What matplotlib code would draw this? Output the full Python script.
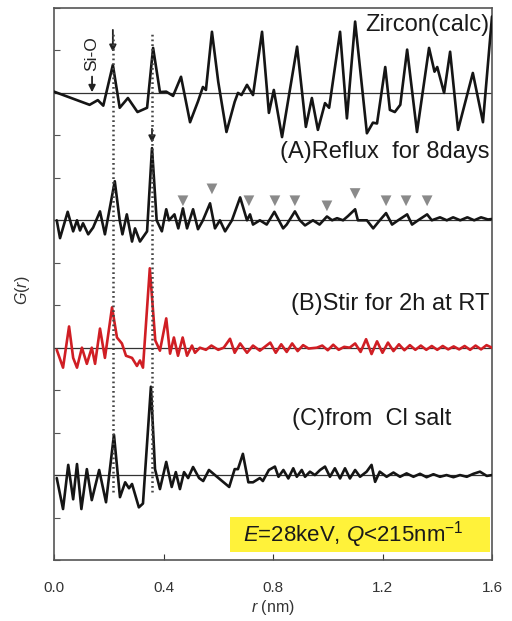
import matplotlib
matplotlib.use("Agg")
import matplotlib.pyplot as plt
from matplotlib.patches import Rectangle

plt.rcParams['font.family'] = ['Liberation Sans', 'DejaVu Sans']
plt.rcParams['mathtext.fontset'] = 'custom'
plt.rcParams['mathtext.rm'] = 'Liberation Sans'
plt.rcParams['mathtext.it'] = 'Liberation Sans:italic'

# ---------------- data ----------------
zircon_r = [0.00, 0.13, 0.16, 0.18, 0.215, 0.24, 0.27, 0.305, 0.34, 0.362, 0.387, 0.41, 0.435,
            0.464, 0.497, 0.526, 0.544, 0.555, 0.577, 0.60, 0.63, 0.66, 0.672, 0.685, 0.705,
            0.727, 0.76, 0.785, 0.803, 0.833, 0.888, 0.92, 0.942, 0.964, 0.99, 1.005, 1.045,
            1.07, 1.10, 1.143, 1.165, 1.18, 1.21, 1.227, 1.245, 1.265, 1.29, 1.326, 1.37,
            1.39, 1.40, 1.425, 1.447, 1.476, 1.53, 1.567, 1.60]
zircon_g = [0.03, -0.28, -0.17, -0.3, 0.66, -0.35, -0.12, -0.45, -0.35, 1.06, 0.02, 0.03, -0.07,
            0.38, -0.69, -0.2, 0.14, 0.07, 1.44, 0.26, -0.92, -0.21, 0.0, -0.05, 0.19,
            -0.05, 1.44, -0.47, 0.07, -1.04, 1.09, -0.8, -0.12, -0.87, -0.24, -0.35, 1.44,
            -0.6, 1.68, -0.95, -0.7, -0.72, 0.61, -0.4, -0.45, -0.28, 1.02, -0.92, 1.06,
            0.5, 0.61, 0.0, 0.97, -0.87, 0.47, -0.69, 1.8]

reflux_r = [0.01, 0.022, 0.05, 0.07, 0.084, 0.095, 0.106, 0.125, 0.143, 0.168, 0.186, 0.222,
            0.24, 0.25, 0.266, 0.285, 0.296, 0.314, 0.34, 0.358, 0.375, 0.394, 0.41, 0.42,
            0.44, 0.454, 0.471, 0.486, 0.508, 0.526, 0.544, 0.57, 0.588, 0.606, 0.625, 0.65,
            0.68, 0.705, 0.716, 0.727, 0.752, 0.777, 0.805, 0.837, 0.85, 0.88, 0.898, 0.917,
            0.946, 0.97, 0.997, 1.016, 1.034, 1.056, 1.074, 1.10, 1.11, 1.143, 1.166, 1.19,
            1.213, 1.235, 1.257, 1.29, 1.308, 1.33, 1.363, 1.38, 1.41, 1.435, 1.458, 1.484,
            1.51, 1.535, 1.56, 1.585, 1.60]
reflux_g = [0.0, -0.42, 0.2, -0.26, 0.0, -0.24, -0.07, -0.33, -0.17, 0.21, -0.33, 0.92,
            0.0, -0.33, 0.14, -0.5, -0.19, -0.5, -0.26, 1.7, 0.0, -0.26, 0.26, 0.0,
            0.14, -0.19, 0.28, -0.19, 0.26, -0.21, 0.0, 0.4, -0.19, 0.0, -0.26, 0.0,
            0.54, 0.0, 0.14, -0.1, 0.0, -0.1, 0.2, -0.19, -0.1, 0.21, 0.0, -0.12,
            0.0, -0.1, 0.09, 0.0, 0.05, 0.0, 0.1, 0.26, 0.0, 0.0, -0.19, 0.0,
            0.17, -0.1, 0.0, 0.14, -0.1, 0.0, 0.14, 0.0, 0.07, 0.0, 0.07, 0.0,
            0.07, 0.0, 0.07, 0.02, 0.03]

stir_r = [0.01, 0.033, 0.055, 0.07, 0.084, 0.102, 0.12, 0.138, 0.15, 0.168, 0.186, 0.212,
          0.23, 0.248, 0.263, 0.285, 0.303, 0.314, 0.325, 0.35, 0.37, 0.387, 0.41, 0.424,
          0.438, 0.453, 0.47, 0.486, 0.504, 0.515, 0.533, 0.555, 0.575, 0.60, 0.62, 0.643,
          0.66, 0.68, 0.705, 0.727, 0.752, 0.79, 0.81, 0.83, 0.85, 0.87, 0.89, 0.91, 0.93,
          0.96, 0.98, 1.00, 1.02, 1.04, 1.06, 1.08, 1.10, 1.12, 1.14, 1.16, 1.18, 1.20,
          1.22, 1.24, 1.26, 1.28, 1.30, 1.32, 1.34, 1.36, 1.38, 1.40, 1.42, 1.44, 1.46,
          1.48, 1.50, 1.52, 1.54, 1.56, 1.58, 1.60]
stir_g = [-0.05, -0.47, 0.5, -0.24, -0.47, 0.0, -0.38, 0.0, -0.38, 0.45, -0.24, 0.95,
          0.24, 0.1, -0.19, -0.24, -0.43, -0.3, -0.47, 1.87, 0.17, -0.07, 0.69, -0.14,
          0.24, -0.19, 0.24, -0.19, 0.05, -0.12, 0.0, -0.05, 0.05, -0.05, 0.0, 0.21,
          -0.12, 0.1, -0.12, 0.05, -0.07, 0.12, -0.12, 0.08, -0.1, 0.1, -0.08, 0.06, -0.02,
          0.0, 0.05, -0.06, 0.07, -0.05, 0.02, 0.0, 0.1, -0.1, 0.2, -0.15, 0.15, -0.12,
          0.12, -0.08, 0.08, -0.06, 0.06, -0.05, 0.05, -0.05, 0.04, -0.05, 0.04, -0.04, 0.03,
          -0.04, 0.04, -0.05, 0.05, -0.04, 0.06, 0.0]

cl_r = [0.01, 0.033, 0.052, 0.07, 0.084, 0.10, 0.12, 0.138, 0.165, 0.19, 0.219, 0.241,
        0.26, 0.274, 0.285, 0.31, 0.325, 0.354, 0.369, 0.387, 0.41, 0.43, 0.445, 0.46,
        0.475, 0.49, 0.508, 0.53, 0.545, 0.566, 0.588, 0.614, 0.64, 0.66, 0.672, 0.69,
        0.71, 0.727, 0.752, 0.763, 0.785, 0.807, 0.82, 0.838, 0.856, 0.874, 0.887, 0.905,
        0.917, 0.935, 0.953, 0.972, 0.99, 1.008, 1.026, 1.045, 1.063, 1.081, 1.10, 1.118,
        1.142, 1.16, 1.173, 1.19, 1.215, 1.24, 1.264, 1.288, 1.313, 1.337, 1.361, 1.386,
        1.41, 1.434, 1.459, 1.483, 1.508, 1.532, 1.556, 1.581, 1.60]
cl_g = [-0.07, -0.8, 0.24, -0.57, 0.26, -0.8, 0.14, -0.59, 0.12, -0.64, 0.95, -0.52,
        -0.17, -0.31, -0.21, -0.76, -0.67, 2.08, 0.14, -0.33, 0.31, -0.28, 0.07, -0.33,
        0.07, -0.07, 0.19, -0.07, -0.14, 0.12, 0.0, -0.14, -0.28, 0.14, 0.14, 0.5,
        -0.17, -0.17, -0.07, -0.14, 0.12, 0.2, -0.04, 0.12, -0.08, 0.16, -0.04, 0.12,
        -0.04, 0.08, 0.0, 0.12, 0.2, -0.04, 0.16, -0.08, 0.16, -0.08, 0.12, -0.04,
        0.08, 0.24, -0.16, 0.08, -0.04, 0.06, -0.04, 0.04, -0.04, 0.03, -0.05, 0.02,
        -0.04, 0.0, -0.05, 0.0, -0.04, 0.03, 0.08, -0.02, 0.0]

# peaks marked with grey triangles on curve (A)
marker_r = [0.471, 0.577, 0.712, 0.807, 0.880, 0.997, 1.10, 1.213, 1.286, 1.363]
marker_g = [0.46, 0.74, 0.46, 0.46, 0.46, 0.34, 0.63, 0.46, 0.46, 0.46]

peak_lines = [0.215, 0.358]
labels = ["Zircon(calc)", "(A)Reflux  for 8days", "(B)Stir for 2h at RT", "(C)from  Cl salt"]
xticks = [0.0, 0.4, 0.8, 1.2, 1.6]

# ---------------- figure ----------------
fig = plt.figure(figsize=(5.12, 6.21), dpi=100)
ax = fig.add_axes([54/512, 1-560/621, 438/512, 552/621])

offsets = [9, 6, 3, 0]
series = [(zircon_r, zircon_g, '#151515'), (reflux_r, reflux_g, '#151515'),
          (stir_r, stir_g, '#d01e24'), (cl_r, cl_g, '#151515')]

for (rr, gg, col), off in zip(series, offsets):
    ax.axhline(off, color='#333333', lw=0.9, zorder=2)
    ax.plot(rr, [g + off for g in gg], color=col, lw=1.9, solid_joinstyle='round',
            solid_capstyle='round', zorder=3)

# dotted guide lines
for r0 in peak_lines:
    ax.plot([r0, r0], [-0.4, 10.4], color='#444444', lw=1.8, ls=(0, (0.7, 1.2)), zorder=4)

# triangles
ax.scatter(marker_r, [g + 6 for g in marker_g], marker='v', s=60,
           color='#8a8a8a', edgecolors='none', zorder=5)

# arrows
arrow_kw = dict(arrowstyle='-|>', color='#222222', lw=1.3, mutation_scale=10)
ax.annotate('', xy=(peak_lines[0], 9.9), xytext=(peak_lines[0], 10.55), arrowprops=arrow_kw)
ax.annotate('', xy=(peak_lines[1], 7.76), xytext=(peak_lines[1], 8.22), arrowprops=arrow_kw)
ax.annotate('', xy=(0.139, 8.95), xytext=(0.139, 9.45), arrowprops=arrow_kw)
ax.text(0.139, 9.92, 'Si-O', rotation=90, ha='center', va='center', fontsize=12.5,
        color='#222222')

# curve labels
fs = 17
ax.text(1.592, 10.6, labels[0], ha='right', va='center', fontsize=fs, color='#1a1a1a')
ax.text(1.592, 7.6, labels[1], ha='right', va='center', fontsize=fs, color='#1a1a1a')
ax.text(1.592, 4.03, labels[2], ha='right', va='center', fontsize=fs, color='#1a1a1a')
ax.text(0.87, 1.33, labels[3], ha='left', va='center', fontsize=fs, color='#1a1a1a')

# yellow box
ax.add_patch(Rectangle((0.402, 0.0145), 0.593, 0.064, transform=ax.transAxes,
                       facecolor='#fff23a', edgecolor='none', zorder=1))
ax.text(0.684, 0.046, r'$E$=28keV, $Q$<215nm$^{\mathrm{-1}}$', transform=ax.transAxes,
        ha='center', va='center', fontsize=16, color='#1a1a1a', zorder=6)

ax.set_xlim(0, 1.6)
ax.set_ylim(-2, 11)
ax.set_xticks(xticks)
ax.set_xticklabels([f'{t:.1f}' for t in xticks])
ax.set_yticks(range(-2, 12))
ax.set_yticklabels([])
ax.tick_params(axis='x', direction='in', length=4, width=0.8, pad=15, labelsize=11,
               colors='#333333', top=False)
ax.tick_params(axis='y', direction='in', length=4, width=0.8, right=False, colors='#555555')
for s in ax.spines.values():
    s.set_color('#555555')
    s.set_linewidth(1.2)

ax.set_xlabel(r'$r$ (nm)', fontsize=11.5, color='#333333', labelpad=2)
fig.text(22/512, 1-290/621, r'$G$($r$)', rotation=90, ha='center', va='center',
         fontsize=11.5, color='#333333')

fig.savefig('out.png', dpi=100)
